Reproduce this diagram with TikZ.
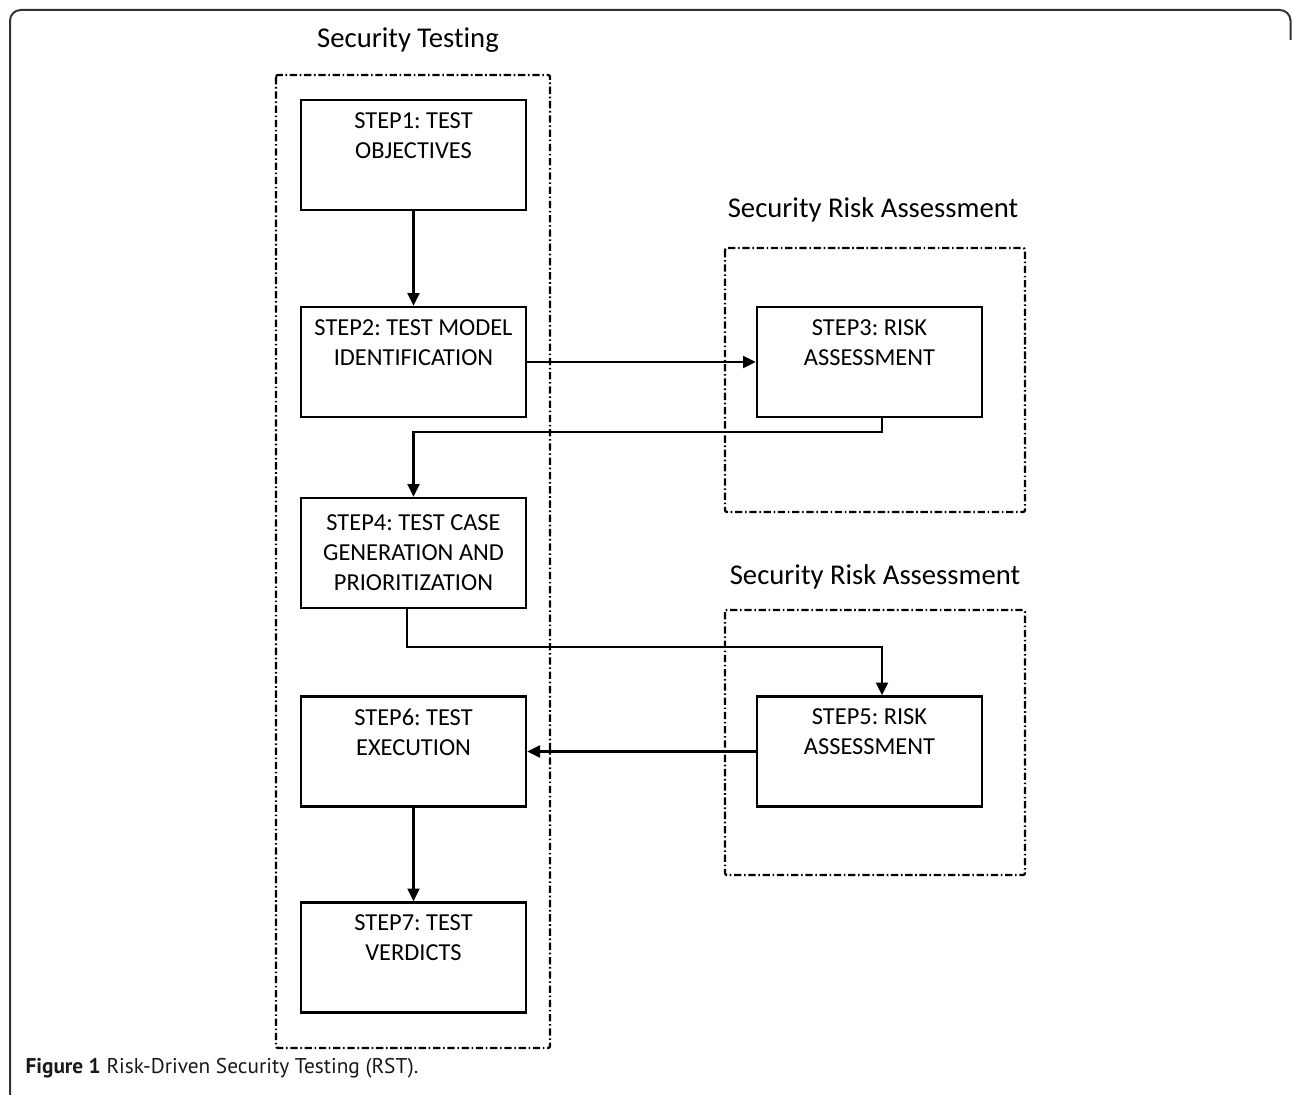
\documentclass[tikz,border=0pt]{standalone}
\usepackage{fontspec}
\setmainfont[Ligatures=NoCommon]{Carlito}
\newfontfamily\capfont{PT Sans}
\usetikzlibrary{arrows.meta}
\frenchspacing

\tikzset{every picture/.style={line width=0.75pt}}
\tikzset{
	stepbox/.style={draw, line width=2pt, minimum width=168.75pt, minimum height=82.5pt, align=center, font=\fontsize{18.3}{22.5}\selectfont, inner sep=0pt},
	groupbox/.style={line width=1.7pt, rounded corners=1.5pt, dash pattern={on 5.5pt off 2pt on 1.2pt off 2pt}},
	grouptitle/.style={font=\fontsize{21.5}{25}\selectfont},
	flow/.style={line width=1.7pt, -{Triangle[length=9.5pt,width=9pt]}}}

\begin{document}
\begin{tikzpicture}[x=0.75pt,y=0.75pt,yscale=-1,xscale=1]
	\useasboundingbox (0,0) rectangle (1292,1095);

	%Shape: Frame
	\draw [color={rgb, 255:red, 50; green, 50; blue, 50 }, line width=1.5pt, rounded corners=8pt] (10,1110) -- (10,10) -- (1290.5,10) -- (1290.5,40) ;

	%Shape: Rectangle [groups]
	\draw [groupbox] (276,75) rectangle (550,1048) ;
	\draw [groupbox] (725,248) rectangle (1025,512) ;
	\draw [groupbox] (725,610) rectangle (1025,875) ;

	% Text Node
	\node [grouptitle] (ttest) at (408,40) {Security Testing};
	% Text Node
	\node [grouptitle] (trisk1) at (873,210) {Security Risk Assessment};
	% Text Node
	\node [grouptitle] (trisk2) at (875,577) {Security Risk Assessment};

	% Steps
	\node [stepbox] (s1) at (413.5,155) {STEP1: TEST\\OBJECTIVES\\\strut};
	\node [stepbox] (s2) at (413.5,362) {STEP2: TEST MODEL\\IDENTIFICATION\\\strut};
	\node [stepbox] (s3) at (869.5,362) {STEP3: RISK\\ASSESSMENT\\\strut};
	\node [stepbox] (s4) at (413.5,553) {STEP4: TEST CASE\\GENERATION AND\\PRIORITIZATION};
	\node [stepbox] (s5) at (869.5,751.5) {STEP5: RISK\\ASSESSMENT\\\strut};
	\node [stepbox] (s6) at (413.5,751.5) {STEP6: TEST\\EXECUTION\\\strut};
	\node [stepbox] (s7) at (413.5,957.5) {STEP7: TEST\\VERDICTS\\\strut};

	\coordinate (t1) at (882,432);
	\coordinate (t2) at (407,647);
	\coordinate (t3) at (882,647);

	%Straight Lines
	\draw [flow] (s1) -- (s2) ;
	\draw [flow] (s2) -- (s3) ;
	\draw [flow] (s3.south -| t1) -- (t1) -| (s4.north) ;
	\draw [flow] (s4.south -| t2) -- (t2) -- (t3) -- (s5.north -| t3) ;
	\draw [flow] (s5) -- (s6) ;
	\draw [flow] (s6) -- (s7) ;

	% Text Node
	\node [anchor=west, inner sep=0pt, color={rgb, 255:red, 25; green, 25; blue, 25 }, font=\capfont\fontsize{16}{20}\selectfont] (cap) at (25,1068) {\textbf{Figure 1} Risk-Driven Security Testing (RST).};

\end{tikzpicture}
\end{document}
